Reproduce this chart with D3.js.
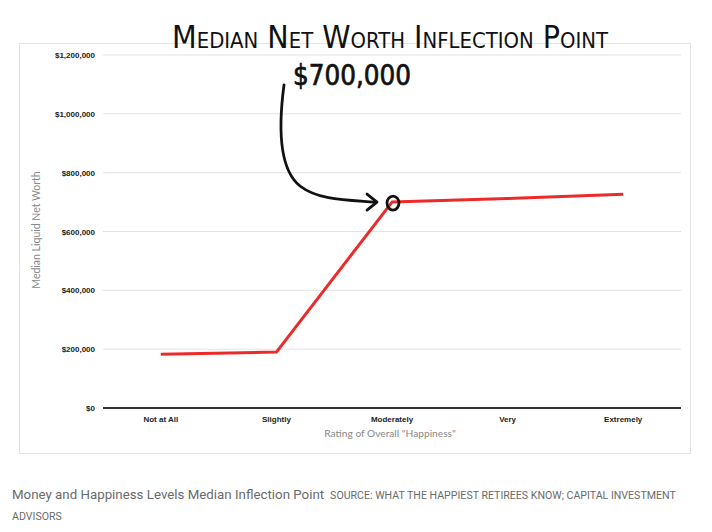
<!DOCTYPE html>
<html><head><meta charset="utf-8">
<script src="https://cdn.jsdelivr.net/npm/d3@7"></script>
<style>
body{margin:0;background:#fff;}
svg{display:block;}
</style></head>
<body>
<script>
const categories = ["Not at All","Slightly","Moderately","Very","Extremely"];
const values = [183000, 190000, 700000, 712000, 727000];
const yTicks = [0,200000,400000,600000,800000,1000000,1200000];
const title = "Median Net Worth Inflection Point";
const annotation = "$700,000";
const highlightCategory = "Moderately";
const caption = "Money and Happiness Levels Median Inflection Point";
const sourceLine1 = "SOURCE: WHAT THE HAPPIEST RETIREES KNOW; CAPITAL INVESTMENT";
const sourceLine2 = "ADVISORS";

const W = 712, H = 532;
const svg = d3.select("body").append("svg").attr("width", W).attr("height", H);

// card
svg.append("rect").attr("x",19.5).attr("y",43.5).attr("width",671).attr("height",410)
  .attr("fill","#fff").attr("stroke","#e4e4e4");

const x = d3.scaleBand().domain(categories).range([103, 681]);
const y = d3.scaleLinear().domain([0, 1200000]).range([408, 55]);

// gridlines
svg.append("g").selectAll("line").data(yTicks.filter(d=>d>0)).join("line")
  .attr("x1",103).attr("x2",681).attr("y1",d=>y(d)).attr("y2",d=>y(d))
  .attr("stroke","#e2e2e2").attr("stroke-width",1);

// y axis labels
const fmt = d => "$" + d3.format(",")(d);
const yAxis = d3.axisLeft(y).tickValues(yTicks).tickFormat(fmt).tickSize(0).tickPadding(8);
const gy = svg.append("g").attr("transform","translate(103,0)").call(yAxis);
gy.select(".domain").remove();
gy.selectAll("text").attr("font-family","Liberation Sans, Arial, sans-serif")
  .attr("font-size",8).attr("font-weight","bold").attr("fill","#222");

// baseline
svg.append("line").attr("x1",103).attr("x2",681).attr("y1",y(0)).attr("y2",y(0))
  .attr("stroke","#333").attr("stroke-width",2);

// x axis labels
const xAxis = d3.axisBottom(x).tickSize(0).tickPadding(8);
const gx = svg.append("g").attr("transform",`translate(0,${y(0)})`).call(xAxis);
gx.select(".domain").remove();
gx.selectAll("text").attr("font-family","Liberation Sans, Arial, sans-serif")
  .attr("font-size",8).attr("font-weight","bold").attr("fill","#222");

// axis titles
svg.append("text").attr("x",390).attr("y",437).attr("text-anchor","middle")
  .attr("font-family","Lato, Open Sans, sans-serif").attr("font-size",10.2).attr("fill","#888")
  .text('Rating of Overall "Happiness"');
svg.append("text").attr("transform","translate(40,230) rotate(-90)").attr("text-anchor","middle")
  .attr("font-family","Lato, Open Sans, sans-serif").attr("font-size",10.5).attr("fill","#888")
  .text("Median Liquid Net Worth");

// line
const line = d3.line().x((d,i)=>x(categories[i])+x.bandwidth()/2).y(d=>y(d));
svg.append("path").datum(values).attr("d",line).attr("fill","none")
  .attr("stroke","#ec2a2a").attr("stroke-width",3).attr("stroke-linejoin","round");

// highlight marker
const hi = categories.indexOf(highlightCategory);
const hx = x(highlightCategory)+x.bandwidth()/2, hy = y(values[hi]);
svg.append("ellipse").attr("cx",hx+1).attr("cy",hy+1).attr("rx",6).attr("ry",7)
  .attr("fill","none").attr("stroke","#111").attr("stroke-width",2.8);

// arrow
svg.append("path")
  .attr("d",`M284,85 C278,130 280,170 300,186 C318,200 345,200 ${hx-18},${hy}`)
  .attr("fill","none").attr("stroke","#111").attr("stroke-width",2.8).attr("stroke-linecap","round");
svg.append("path")
  .attr("d",`M${hx-25},${hy-8} L${hx-15},${hy} L${hx-25},${hy+8}`)
  .attr("fill","none").attr("stroke","#111").attr("stroke-width",2.8)
  .attr("stroke-linecap","round").attr("stroke-linejoin","round");

// handwritten title
svg.append("text").attr("x",172).attr("y",48)
  .attr("font-family","DejaVu Sans Condensed, DejaVu Sans, sans-serif")
  .attr("font-size",32).attr("font-variant","small-caps").attr("fill","#111")
  .attr("textLength",436).attr("lengthAdjust","spacingAndGlyphs")
  .text(title);
svg.append("text").attr("x",293).attr("y",85)
  .attr("font-family","DejaVu Sans Condensed, DejaVu Sans, sans-serif")
  .attr("font-size",28).attr("fill","#111").attr("stroke","#111").attr("stroke-width",0.7)
  .attr("textLength",118).attr("lengthAdjust","spacingAndGlyphs")
  .text(annotation);

// caption
const cap = svg.append("text").attr("x",12).attr("y",499)
  .attr("font-family","Roboto, Noto Sans, sans-serif").attr("fill","#6a6a6a");
cap.append("tspan").attr("font-size",13.3).text(caption);
cap.append("tspan").attr("font-size",10.6).attr("dx",6).text(sourceLine1);
svg.append("text").attr("x",12).attr("y",520)
  .attr("font-family","Roboto, Noto Sans, sans-serif").attr("font-size",10.6).attr("fill","#6a6a6a")
  .text(sourceLine2);
</script>
</body></html>
